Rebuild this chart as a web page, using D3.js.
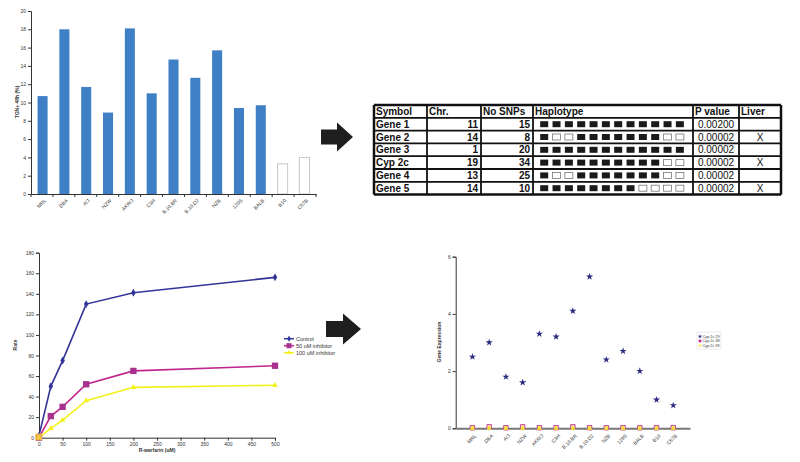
<!DOCTYPE html>
<html><head><meta charset="utf-8">
<script src="https://cdn.jsdelivr.net/npm/d3@7"></script>
<style>html,body{margin:0;padding:0;background:#fff}svg{display:block;font-family:"Liberation Sans",Arial,sans-serif}</style>
</head><body>
<svg id="c" width="800" height="462"></svg>
<script>
// ---------- DATA ----------
const strains = ["MRL","DBA","A/J","NZW","AKR/J","C3H","B.10.BR","B.10.D2","NZB","129S","BALB","B10","C57B"];
const barValues = [10.7, 18.0, 11.7, 8.9, 18.1, 11.0, 14.7, 12.7, 15.7, 9.4, 9.7, 3.3, 4.0];
const barOpen = [false,false,false,false,false,false,false,false,false,false,false,true,true];
const barTicks = [0,2,4,6,8,10,12,14,16,18,20];

const tableHeader = ["Symbol","Chr.","No SNPs","Haplotype","P value","Liver"];
const tableSymbols = ["Gene 1","Gene 2","Gene 3","Cyp 2c","Gene 4","Gene 5"];
const tableChr = [11,14,1,19,13,14];
const tableSNPs = [15,8,20,34,25,10];
const tableHaplo = [
  "111111111111",
  "100111111100",
  "111111111111",
  "111111111100",
  "100111111100",
  "111111110000"];
const tableP = ["0.00200","0.00002","0.00002","0.00002","0.00002","0.00002"];
const tableLiver = ["","X","","X","","X"];

const warfarin = [0,25,50,100,200,500];
const rateControl = [2,50,75,130,141,156];
const rate50 = [0,21,30,52,65,70];
const rate100 = [0,9,17,36,49,51];
const rateTicksY = [0,20,40,60,80,100,120,140,160,180];
const rateTicksX = [0,50,100,150,200,250,300,350,400,450,500];
const rateSeries = ["Control","50 uM inhibitor","100 uM inhibitor"];

const expr29 = [2.5,3.0,1.8,1.6,3.3,3.2,4.1,5.3,2.4,2.7,2.0,1.0,0.8];
const expr38 = [0.02,0.05,0.02,0.05,0.02,0.02,0.05,0.02,0.02,0.02,0.02,0.02,0.02];
const expr39 = [0,0,0,0,0,0,0,0,0,0,0,0,0];
const exprTicks = [0,2,4,6];
const exprSeries = ["Cyp 2c 29","Cyp 2c 38","Cyp 2c 39"];

// ---------- DRAW ----------
const svg = d3.select("#c");
const axisCol = "#333";
function styleAxis(g, fs){
  g.selectAll("path,line").attr("stroke",axisCol).attr("stroke-width",1);
  g.selectAll("text").attr("font-size",fs).attr("fill","#333");
}

// ===== Bar chart (top-left) =====
{
  const x = d3.scaleBand().domain(strains).range([31,316]).paddingInner(0.54).paddingOuter(0.3);
  const y = d3.scaleLinear().domain([0,20]).range([194,11]);
  const g = svg.append("g");
  g.selectAll("rect").data(barValues).join("rect")
    .attr("x",(d,i)=>x(strains[i])).attr("width",x.bandwidth())
    .attr("y",d=>y(d)).attr("height",d=>y(0)-y(d))
    .attr("fill",(d,i)=>barOpen[i]?"#fff":"#3f7fc6")
    .attr("stroke",(d,i)=>barOpen[i]?"#c8c8c8":"none").attr("stroke-width",1);
  const ya = g.append("g").attr("transform","translate(31,0)")
    .call(d3.axisLeft(y).tickValues(barTicks).tickSize(3).tickPadding(2));
  styleAxis(ya,5);
  const xa = g.append("g").attr("transform","translate(0,194)")
    .call(d3.axisBottom(x).tickSize(0).tickPadding(4));
  styleAxis(xa,5);
  xa.selectAll(".tick text").attr("text-anchor","end").attr("dy","0.3em")
    .attr("transform","translate(0,3) rotate(-45)");
  const w = 285/strains.length;
  xa.selectAll(".sep").data(d3.range(strains.length+1)).join("line")
    .attr("x1",i=>31+i*w).attr("x2",i=>31+i*w)
    .attr("y1",0).attr("y2",3).attr("stroke",axisCol);
  g.append("text").attr("transform","translate(19,102) rotate(-90)")
    .attr("text-anchor","middle").attr("font-size",5).attr("font-weight","bold").attr("fill","#333")
    .text("TGN+ 48h (%)");
}

// ===== Arrows =====
function arrow(x0,xs,xt,yc,sh,hh){
  svg.append("path").attr("fill","#1e1e1e")
    .attr("d",`M${x0},${yc-sh}L${xs},${yc-sh}L${xs},${yc-hh}L${xt},${yc}L${xs},${yc+hh}L${xs},${yc+sh}L${x0},${yc+sh}Z`);
}
arrow(321,337,353,137,7.5,14.5);
arrow(326,343,361,329,8,15.5);

// ===== Table =====
{
  const cols = [374,427,481,533,693,739,781];
  const top = 105, rh = 12.8, nrows = tableSymbols.length+1;
  const g = svg.append("g").attr("font-weight","bold").attr("font-size",10).attr("fill","#111");
  const bottom = top + rh*nrows;
  for(let r=0;r<=nrows;r++){
    g.append("line").attr("x1",cols[0]).attr("x2",cols[6]).attr("y1",top+r*rh).attr("y2",top+r*rh)
      .attr("stroke","#111").attr("stroke-width",(r===0||r===nrows)?2.5:1.8);
  }
  cols.forEach((c,i)=>{
    g.append("line").attr("x1",c).attr("x2",c).attr("y1",top).attr("y2",bottom)
      .attr("stroke","#111").attr("stroke-width",(i===0||i===6)?2.5:1.8);
  });
  const ty = r => top + rh*(r+0.5) + 3.6;
  tableHeader.forEach((h,i)=>{
    g.append("text").attr("x",cols[i]+2).attr("y",ty(0)).text(h);
  });
  const hs = d3.scaleBand().domain(d3.range(12)).range([538,686]);
  tableSymbols.forEach((s,i)=>{
    const r=i+1;
    g.append("text").attr("x",cols[0]+2).attr("y",ty(r)).text(s);
    g.append("text").attr("x",cols[2]-3).attr("y",ty(r)).attr("text-anchor","end").text(tableChr[i]);
    g.append("text").attr("x",cols[3]-3).attr("y",ty(r)).attr("text-anchor","end").text(tableSNPs[i]);
    g.append("text").attr("x",(cols[4]+cols[5])/2).attr("y",ty(r)).attr("text-anchor","middle").attr("font-weight","normal").text(tableP[i]);
    g.append("text").attr("x",(cols[5]+cols[6])/2).attr("y",ty(r)).attr("text-anchor","middle").attr("font-weight","normal").text(tableLiver[i]);
    tableHaplo[i].split("").forEach((c,k)=>{
      g.append("rect").attr("x",hs(k)+2.2).attr("y",top+rh*r+3.4).attr("width",8).attr("height",6)
        .attr("fill",c==="1"?"#1a1a1a":"#fff").attr("stroke",c==="1"?"none":"#777").attr("stroke-width",0.8);
    });
  });
}

// ===== Line chart (bottom-left) =====
{
  const x = d3.scaleLinear().domain([0,500]).range([39,275]);
  const y = d3.scaleLinear().domain([0,180]).range([437.7,252.7]);
  const g = svg.append("g");
  const ya = g.append("g").attr("transform","translate(39,0)")
    .call(d3.axisLeft(y).tickValues(rateTicksY).tickSize(3).tickPadding(2));
  styleAxis(ya,5);
  const xa = g.append("g").attr("transform","translate(0,437.7)")
    .call(d3.axisBottom(x).tickValues(rateTicksX).tickSize(3).tickPadding(2));
  styleAxis(xa,5);
  const cols = ["#333399","#c1268f","#f2f21a"];
  const data = [rateControl, rate50, rate100];
  const line = d3.line().x((d,i)=>x(warfarin[i])).y(d=>y(d));
  data.forEach((s,k)=>{
    g.append("path").datum(s).attr("d",line).attr("fill","none").attr("stroke",cols[k]).attr("stroke-width",1.6);
  });
  const sym = [d3.symbol().type(d3.symbolDiamond).size(18), d3.symbol().type(d3.symbolSquare).size(40), d3.symbol().type(d3.symbolTriangle).size(14)];
  const mcols = ["#333399","#a8308e","#f2f21a"];
  data.forEach((s,k)=>{
    g.selectAll(null).data(s).join("path").attr("d",sym[k])
      .attr("transform",(d,i)=>`translate(${x(warfarin[i])},${y(d)})`).attr("fill",mcols[k]);
  });
  g.append("rect").attr("x",35).attr("y",433.5).attr("width",7).attr("height",7).attr("fill","#f4c542").attr("opacity",0.8);
  g.append("text").attr("x",157).attr("y",452).attr("text-anchor","middle").attr("font-size",5).attr("font-weight","bold").attr("fill","#333").text("R-warfarin (uM)");
  g.append("text").attr("transform","translate(17,345) rotate(-90)").attr("text-anchor","middle").attr("font-size",5).attr("font-weight","bold").attr("fill","#333").text("Rate");
  rateSeries.forEach((s,k)=>{
    const ly = 338.7 + k*7;
    g.append("line").attr("x1",284).attr("x2",294).attr("y1",ly).attr("y2",ly).attr("stroke",cols[k]).attr("stroke-width",1.5);
    g.append("path").attr("d",sym[k]).attr("transform",`translate(289,${ly}) scale(0.8)`).attr("fill",mcols[k]);
    g.append("text").attr("x",296).attr("y",ly+2).attr("font-size",5.5).attr("fill","#333").text(s);
  });
}

// ===== Scatter (bottom-right) =====
{
  const x = d3.scalePoint().domain(strains).range([455.7,690]).padding(1);
  const y = d3.scaleLinear().domain([0,6]).range([428.3,256.7]);
  const g = svg.append("g");
  const ya = g.append("g").attr("transform","translate(455.7,0)")
    .call(d3.axisLeft(y).tickValues(exprTicks).tickFormat(d3.format("d")).tickSize(3).tickPadding(2));
  styleAxis(ya,5);
  const xa = g.append("g").attr("transform","translate(0,428.3)")
    .call(d3.axisBottom(x).tickSize(0).tickPadding(4));
  styleAxis(xa,5);
  xa.select(".domain").attr("stroke","#777").attr("stroke-width",2);
  xa.selectAll(".tick text").attr("text-anchor","end").attr("dy","0.3em")
    .attr("transform","translate(0,4) rotate(-45)");
  g.append("text").attr("transform","translate(441,342) rotate(-90)").attr("text-anchor","middle").attr("font-size",5).attr("font-weight","bold").attr("fill","#333").text("Gene Expression");
  const star = d3.symbol().type(d3.symbolStar).size(16);
  const sq = d3.symbol().type(d3.symbolSquare).size(20);
  const tri = d3.symbol().type(d3.symbolTriangle).size(12);
  g.selectAll(null).data(expr38).join("path").attr("d",sq)
    .attr("transform",(d,i)=>`translate(${x(strains[i])},${y(d)})`).attr("fill","#fde3c0").attr("stroke","#c0308f").attr("stroke-width",0.9);
  g.selectAll(null).data(expr39).join("path").attr("d",tri)
    .attr("transform",(d,i)=>`translate(${x(strains[i])},${y(d)})`).attr("fill","#f2e22a");
  g.selectAll(null).data(expr29).join("path").attr("d",star)
    .attr("transform",(d,i)=>`translate(${x(strains[i])},${y(d)})`).attr("fill","#2b2b80");
  g.append("rect").attr("x",697).attr("y",332).attr("width",24).attr("height",17).attr("fill","#fff").attr("stroke","#ddd").attr("stroke-width",0.6);
  const syms=[star,sq,tri], fills=["#2b2b80","#c0308f","#f2e22a"];
  exprSeries.forEach((s,k)=>{
    const ly = 336.5 + k*4.5;
    g.append("path").attr("d",syms[k]).attr("transform",`translate(700,${ly}) scale(0.6)`).attr("fill",fills[k]);
    g.append("text").attr("x",702.5).attr("y",ly+1.3).attr("font-size",3.8).attr("fill","#333").text(s);
  });
}
</script>
</body></html>
